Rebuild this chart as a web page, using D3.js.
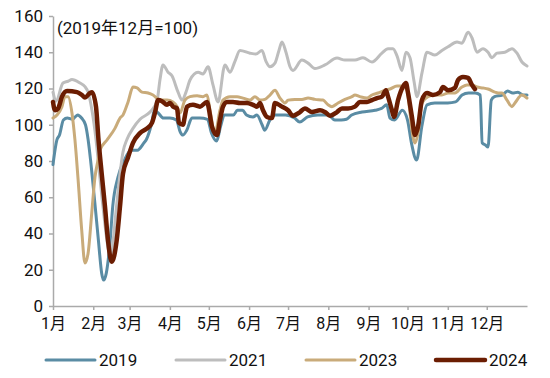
<!DOCTYPE html>
<html>
<head>
<meta charset="utf-8">
<script src="https://d3js.org/d3.v7.min.js"></script>
<style>
  body { margin: 0; background: #fff; }
  text { font-family: Roboto, "Noto Sans CJK SC", sans-serif; fill: #111; }
</style>
</head>
<body>
<svg id="chart" width="550" height="378"></svg>
<script>
// data: [day of year, index value]
const s2019 = [[0,78],[3,91.6],[5,94.3],[8,102.6],[11,103.7],[15,103],[17,104.3],[19,105.4],[22,103.7],[25,100],[27,92],[29,80],[32,58.5],[35,36],[37.5,18],[39,14.3],[41,18],[44,36],[46,55],[50,71],[55,80.5],[60,86],[65,86],[70,90],[72,92],[76,101],[78,108],[81,106.5],[85,103.7],[90,103.7],[95,102.6],[98,96],[100,94.3],[103,97],[107,103.7],[113,103.7],[119,103],[122,95.4],[126,91],[129,99],[132,105.4],[139,105.4],[142,108],[146,108],[149,105.4],[154,104.3],[157,105.4],[161,100],[163,97],[167,102.6],[171,105.4],[179,105.4],[186,103.7],[190,101.5],[196,104.3],[204,105.4],[212,105.4],[217,102.6],[222,102.6],[226,103],[230,105.4],[238,107],[248,108],[253,109],[257,111],[259.5,103.7],[263,102.6],[269,108],[273,102.6],[276,90],[280,80.5],[284,99],[288,111],[294,112],[300,112],[304,112],[310,112.6],[315,116.4],[320,117.5],[325,117.5],[329,116.4],[330.5,90],[333,88.8],[335,87.7],[337.5,113.6],[340,115.5],[346,116.4],[350,118.6],[354,117.5],[358,118],[362,116.4],[365,116.4]];

const s2021 = [[0,118],[2.3,113],[7.7,123],[11.6,124],[14.6,125],[20.8,123],[24.6,121],[27,118],[30,108],[33.1,92],[35.4,76],[37.7,60],[40,45],[42.4,32],[44.3,27],[46.2,35],[48.5,52],[50.8,68],[53.9,85],[57,92],[61.6,98],[67,103],[74.7,107],[80.1,113],[82.4,125],[84.7,133],[88.6,129],[91.6,127],[96.3,118],[99.3,113.6],[102.4,118],[105.5,124.7],[111.7,129],[115.5,128],[119.4,132],[123.2,122],[127.1,112.6],[132.4,133],[136.3,129],[140.1,135],[144,141],[151.7,139.5],[156.3,139],[160.9,141],[164,135],[167.1,132],[170.9,134],[174,141],[176.3,145.6],[179.4,140],[182.5,132],[184.8,130],[191.7,135.7],[196.4,134],[201.7,131],[209.4,133],[218.7,136.8],[224.8,135.7],[232.5,135.7],[238.7,137],[245.6,134.6],[253.3,139.5],[258,142],[261.8,142],[264.9,138],[268.7,130],[271.8,140],[274.9,137],[278,124],[280.3,115.5],[284.1,128.5],[288,140],[294.1,138.5],[299.5,141],[304.2,143],[311.1,145.6],[314.9,145],[319.6,151],[322.6,148],[326.5,140],[331.1,142],[335,140],[338,137],[341.9,139.5],[348,140],[353.4,142],[357.3,139.5],[361.1,134.6],[365,132.4]];

const s2023 = [[0,103.7],[3.1,105.4],[6.9,110],[9.2,115.5],[11.6,115.5],[14.6,106.5],[16.9,91.6],[19.3,70],[22.1,42],[24.6,23.7],[27,29],[29.8,51],[32.3,71],[34.7,80.5],[36.2,86],[41.6,91.6],[47.7,98],[51.6,103.7],[53.9,105.4],[57.8,112.6],[61.6,120.8],[64.7,120.3],[68.5,118],[73.2,117.5],[77,116.4],[82.4,113.6],[87.8,113.6],[92.4,112.6],[95.5,110],[97.8,106.5],[101.6,113.6],[105.5,115.5],[110.9,116],[115.5,115.5],[118.6,116.4],[120.9,108],[124.7,95.4],[128.6,108],[130.9,113.6],[136.3,115.5],[141.7,115.5],[146.3,114.7],[151.7,113.6],[155.5,115.5],[159.4,113.6],[163.2,114],[167.1,116.4],[170.9,119],[174.8,114.7],[178.6,112],[181,113.6],[186.3,114],[191.7,114],[196.4,114.7],[201.7,114],[207.9,113.6],[211.8,111],[214.8,110],[219.5,112],[224.8,114],[230.2,115.5],[232.5,116.4],[236.4,115.5],[241.8,114.7],[245.6,116.4],[250.3,117.5],[255.6,119],[259.5,119.7],[264.9,121.4],[268.7,121.4],[272.6,119],[274.9,106.5],[277.2,93.2],[278.7,89.9],[281.1,95.4],[284.1,112],[288.8,115.5],[294.1,116.4],[299.5,116.4],[304.2,117.5],[309.5,117.5],[314.9,120.8],[318.8,122],[322.6,122],[326.5,120.8],[331.1,120.3],[335,119.7],[340.3,118],[342.7,117.5],[345.7,117.5],[349.6,113.6],[353.4,110],[355.7,112],[361.1,116.4],[365,114.7]];

const s2024 = [[0,112.6],[1.5,108],[3.9,109],[6.9,115.5],[10.8,118.6],[18.5,118],[22.3,116.4],[24.6,115],[28.5,117.5],[30,118],[33.1,110],[35,92],[37.5,73],[40,55],[42.4,36],[45.2,24.4],[49,36],[51.6,55],[53.9,73],[57.8,82],[61.6,90],[67,95.4],[72.4,98],[76.2,101],[78.5,106.5],[80.9,113.6],[83.9,113],[87.8,111],[90.1,112],[92.4,110],[95.5,109],[97,101],[100.1,100],[101.6,105],[103.2,110],[107.8,111],[113.2,110],[118.6,112.6],[119.4,111],[122.4,99],[126.3,94.3],[128.6,102.6],[130.9,110],[134,112.6],[138.6,112.6],[144,112],[149.4,112],[154,111],[157.1,110],[159.4,112],[161.7,108],[164.8,104.3],[168.6,103.7],[170.9,112],[176.3,110],[181,108],[184.8,105],[190.2,107],[194,109],[199.4,107],[205.6,108],[209.4,107],[213.3,105],[218.7,107],[222.5,109],[227.2,109],[232.5,110],[236.4,112.6],[241.8,112.6],[245.6,113.6],[249.5,114.7],[253.3,115.5],[256.4,119],[258,115.5],[261,108],[262.6,104.3],[265.7,113.6],[269.5,121],[271.8,123],[273.4,117.5],[276.4,104.3],[278.7,94.3],[281.1,99],[284.1,113.6],[288,117.5],[292.6,116.4],[298,118],[300.3,120.8],[304.2,119],[309.5,120.3],[311.9,124.7],[315.7,126.3],[319.6,125.8],[322.6,122],[324.9,119.7]];

const years = ["2019", "2021", "2023", "2024"];
const seriesList = [s2019, s2021, s2023, s2024];
const colors = ["#5a8ca4", "#bdbdbd", "#c9ab7a", "#6b1d02"];
const widths = [3, 3, 3, 4.5];

const monthStarts = [0, 31, 59, 90, 120, 151, 181, 212, 243, 273, 304, 334];
const monthLabels = ["1月","2月","3月","4月","5月","6月","7月","8月","9月","10月","11月","12月"];
const yTicks = [0, 20, 40, 60, 80, 100, 120, 140, 160];
const note = "(2019年12月=100)";

const svg = d3.select("#chart");
const x = d3.scaleLinear().domain([0, 365]).range([53, 527]);
const y = d3.scaleLinear().domain([0, 160]).range([306, 16]);

// axes
const yAxis = svg.append("g").attr("transform", "translate(53,0)")
  .call(d3.axisLeft(y).tickValues(yTicks).tickSize(4).tickPadding(6).tickSizeOuter(0));
const xAxis = svg.append("g").attr("transform", "translate(0,306)")
  .call(d3.axisBottom(x).tickValues(monthStarts).tickFormat((d, i) => monthLabels[i])
    .tickSize(4).tickPadding(8).tickSizeOuter(0));

[yAxis, xAxis].forEach(a => {
  a.select(".domain").attr("stroke", "#aaa").attr("stroke-width", 1.5);
  a.selectAll(".tick line").attr("stroke", "#aaa").attr("stroke-width", 1.5);
  a.selectAll("text").attr("fill", "#111")
    .style("font-family", 'Roboto, "Noto Sans CJK SC", sans-serif');
});
yAxis.selectAll("text").attr("font-size", 17);
xAxis.selectAll("text").attr("font-size", 16);

svg.append("text").attr("x", 57).attr("y", 34).attr("font-size", 17).text(note);

// lines
const line = d3.line().x(d => x(d[0])).y(d => y(d[1])).curve(d3.curveMonotoneX);
seriesList.forEach((s, i) => {
  svg.append("path").datum(s)
    .attr("fill", "none")
    .attr("stroke", colors[i])
    .attr("stroke-width", widths[i])
    .attr("stroke-linejoin", "round")
    .attr("stroke-linecap", "round")
    .attr("d", line);
});

// legend
const legendX = [46, 176, 306, 436];
const legend = svg.append("g");
years.forEach((yr, i) => {
  legend.append("line")
    .attr("x1", legendX[i]).attr("x2", legendX[i] + 49)
    .attr("y1", 360).attr("y2", 360)
    .attr("stroke", colors[i]).attr("stroke-width", widths[i])
    .attr("stroke-linecap", "round");
  legend.append("text")
    .attr("x", legendX[i] + 53).attr("y", 360).attr("dy", "0.35em")
    .attr("font-size", 17).text(yr);
});
</script>
</body>
</html>
